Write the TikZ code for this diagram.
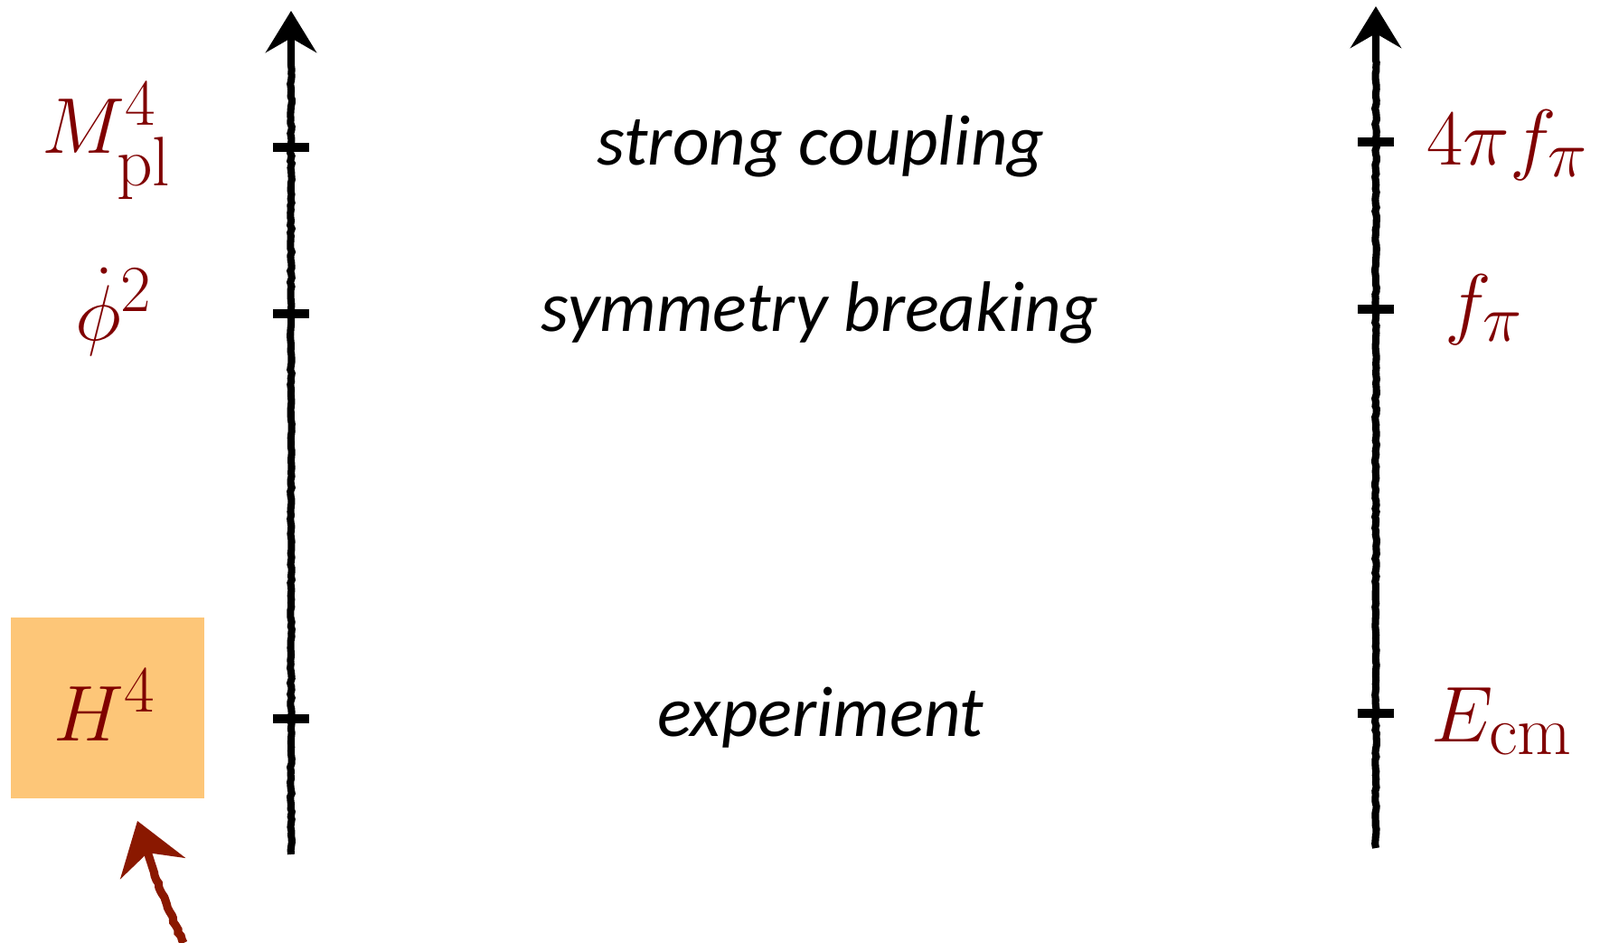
\documentclass[tikz,border=0pt]{standalone}
\usepackage{amsmath}
\usepackage{fontspec}
\setsansfont{Carlito}
\usetikzlibrary{arrows.meta,decorations.pathmorphing}
\definecolor{escala}{HTML}{800000}
\definecolor{caja}{HTML}{FDC678}
\definecolor{flecha}{HTML}{8A1800}

\begin{document}
\begin{tikzpicture}[line width=2.3pt,>={Stealth[length=4.6mm,width=5.6mm,inset=1.6mm]},
  rough/.style={decorate,decoration={random steps,segment length=1.2pt,amplitude=0.25pt,post=lineto,post length=6mm}},
  lbl/.style={text=escala,inner sep=0pt,font=\fontsize{31.5}{36}\selectfont},
  regime/.style={font=\sffamily\itshape\fontsize{22.5}{27}\selectfont}]
  \useasboundingbox (0,0) rectangle (17.70,10.43);
  % --- ejes ---
  \coordinate (lbot) at (3.22,0.98); \coordinate (ltop) at (3.22,10.31);
  \coordinate (rbot) at (15.22,1.05); \coordinate (rtop) at (15.22,10.36);
  \draw[->,rough] (lbot)--(ltop);
  \draw[->,rough] (rbot)--(rtop);
  \foreach \y in {8.80,6.96,2.48} \draw[rough,line width=3pt] (3.02,\y)--(3.42,\y);
  \foreach \y in {8.86,7.01,2.54} \draw[rough,line width=3pt] (15.02,\y)--(15.42,\y);
  % --- escalas izquierda ---
  \fill[caja] (0.12,1.60) rectangle (2.26,3.60);
  \node[lbl] (mpl) at (1.18,8.87){$M_{\text{pl}}^4$};
  \node[lbl] (phid) at (1.26,6.98){$\dot\phi^2$};
  \node[lbl] (hub) at (1.16,2.63){$H^4$};
  % --- regimenes ---
  \node[regime] (strong) at (9.08,8.81){strong coupling};
  \node[regime] (symm) at (9.07,6.97){symmetry breaking};
  \node[regime] (expt) at (9.08,2.49){experiment};
  % --- escalas derecha ---
  \node[lbl] (fourpi) at (16.68,8.82){$4\pi f_\pi$};
  \node[lbl] (fpi) at (16.42,7.00){$f_\pi$};
  \node[lbl] (ecm) at (16.62,2.45){$E_{\text{cm}}$};
  % --- flecha ---
  \coordinate (tail) at (2.03,0.00); \coordinate (tip) at (1.52,1.35);
  \draw[->,rough,flecha,line width=2.6pt,>={Stealth[length=5.5mm,width=7.5mm,inset=1.8mm]}] (tail) to[bend left=4] (tip);
\end{tikzpicture}
\end{document}
